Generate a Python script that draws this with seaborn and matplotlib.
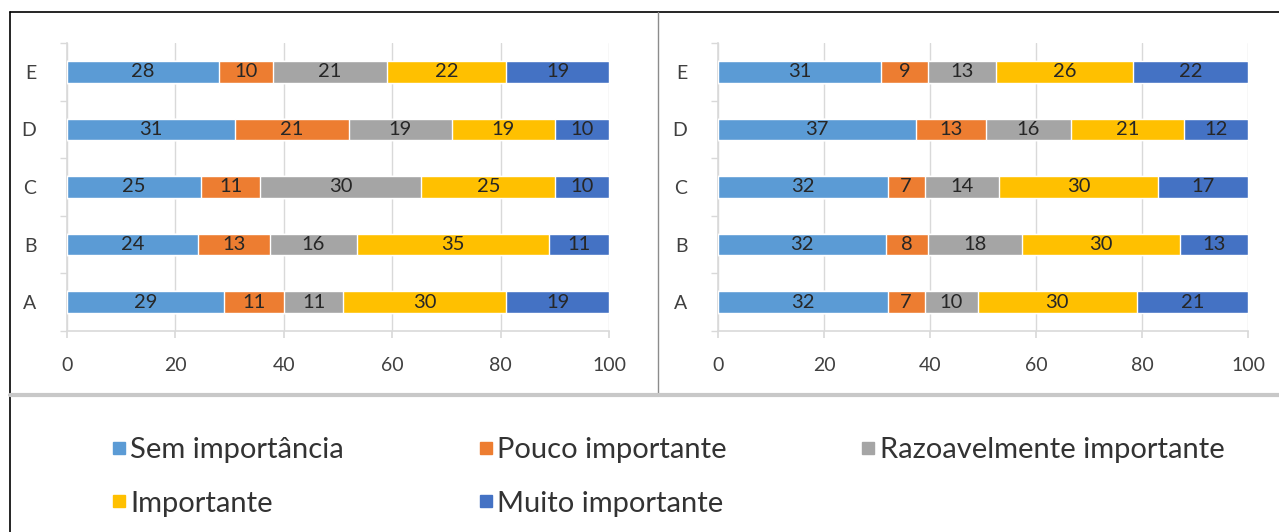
import numpy as np
import pandas as pd
import seaborn as sns
import matplotlib.pyplot as plt
from matplotlib.lines import Line2D

# categories and answer levels
groups = ['E', 'D', 'C', 'B', 'A']
levels = ['Sem importância', 'Pouco importante', 'Razoavelmente importante',
          'Importante', 'Muito importante']
colors = ['#5B9BD5', '#ED7D31', '#A5A5A5', '#FFC000', '#4472C4']

# values per group (E..D..A), one list per level
left_sem = [28, 31, 25, 24, 29]
left_pouco = [10, 21, 11, 13, 11]
left_razo = [21, 19, 30, 16, 11]
left_imp = [22, 19, 25, 35, 30]
left_muito = [19, 10, 10, 11, 19]

right_sem = [31, 37, 32, 32, 32]
right_pouco = [9, 13, 7, 8, 7]
right_razo = [13, 16, 14, 18, 10]
right_imp = [26, 21, 30, 30, 30]
right_muito = [22, 12, 17, 13, 21]

sns.set_theme(style='white')
plt.rcParams['font.family'] = ['Lato', 'DejaVu Sans']

def stacked(ax, cols):
    df = pd.DataFrame(dict(zip(levels, cols)), index=groups)
    # scale each row to 100 (labels are rounded percentages)
    widths = df.div(df.sum(axis=1), axis=0) * 100
    cum = widths.cumsum(axis=1)
    # draw cumulative bars from longest to shortest so they overlap as a stack
    for lvl, col in reversed(list(zip(levels, colors))):
        d = pd.DataFrame({'grupo': groups, 'valor': cum[lvl].values})
        sns.barplot(data=d, x='valor', y='grupo', order=groups, color=col,
                    width=0.37, saturation=1, ax=ax, zorder=3)
    for i, g in enumerate(groups):
        for lvl in levels:
            mid = cum.loc[g, lvl] - widths.loc[g, lvl] / 2
            ax.text(mid, i, str(df.loc[g, lvl]), ha='center', va='center',
                    fontsize=14.5, color='#262626', zorder=4)
    ax.set_xlim(0, 100)
    ax.set_ylim(4.5, -0.5)
    ax.set_xticks([0, 20, 40, 60, 80, 100])
    ax.set_xlabel('')
    ax.set_ylabel('')
    ax.grid(axis='x', color='#D9D9D9', lw=1, zorder=0)
    ax.set_axisbelow(True)
    for s in ['top', 'right']:
        ax.spines[s].set_visible(False)
    for s in ['left', 'bottom']:
        ax.spines[s].set_color('#D9D9D9')
        ax.spines[s].set_linewidth(1.2)
    ax.set_yticks(np.arange(-0.5, 5, 1), minor=True)
    ax.tick_params(axis='y', which='major', length=0, pad=22,
                   labelsize=14, labelcolor='#404040')
    ax.tick_params(axis='y', which='minor', length=5, color='#D9D9D9', left=True)
    ax.tick_params(axis='x', length=5, color='#D9D9D9', bottom=True, pad=14,
                   labelsize=14, labelcolor='#404040')

fig = plt.figure(figsize=(12.79, 5.32), dpi=100)
ax1 = fig.add_axes([0.0524, 0.378, 0.4238, 0.541])
ax2 = fig.add_axes([0.5614, 0.378, 0.4144, 0.541])
stacked(ax1, [left_sem, left_pouco, left_razo, left_imp, left_muito])
stacked(ax2, [right_sem, right_pouco, right_razo, right_imp, right_muito])

# frame lines of the original chart image
fig.add_artist(Line2D([0.0078, 1], [0.9774, 0.9774], color='black', lw=1.2))
fig.add_artist(Line2D([0.0078, 0.0078], [0, 0.9774], color='black', lw=1.2))
fig.add_artist(Line2D([0.5145, 0.5145], [0.2575, 0.9774], color='#8C8C8C', lw=1))
fig.add_artist(Line2D([0.0078, 1], [0.2575, 0.2575], color='#C8C8C8', lw=3))

# legend, ordered so rows read left to right
order = [0, 3, 1, 4, 2]
handles = [Line2D([], [], marker='s', ls='none', markersize=9,
                  markerfacecolor=colors[i], markeredgecolor=colors[i]) for i in order]
fig.legend(handles, [levels[i] for i in order], ncol=3, frameon=False,
           loc='upper left', bbox_to_anchor=(0.0757, 0.206), fontsize=21,
           handlelength=0.5, handletextpad=0.15, columnspacing=4.6,
           labelspacing=0.95, borderpad=0, labelcolor='#333333')

fig.savefig('out.png', dpi=100)
